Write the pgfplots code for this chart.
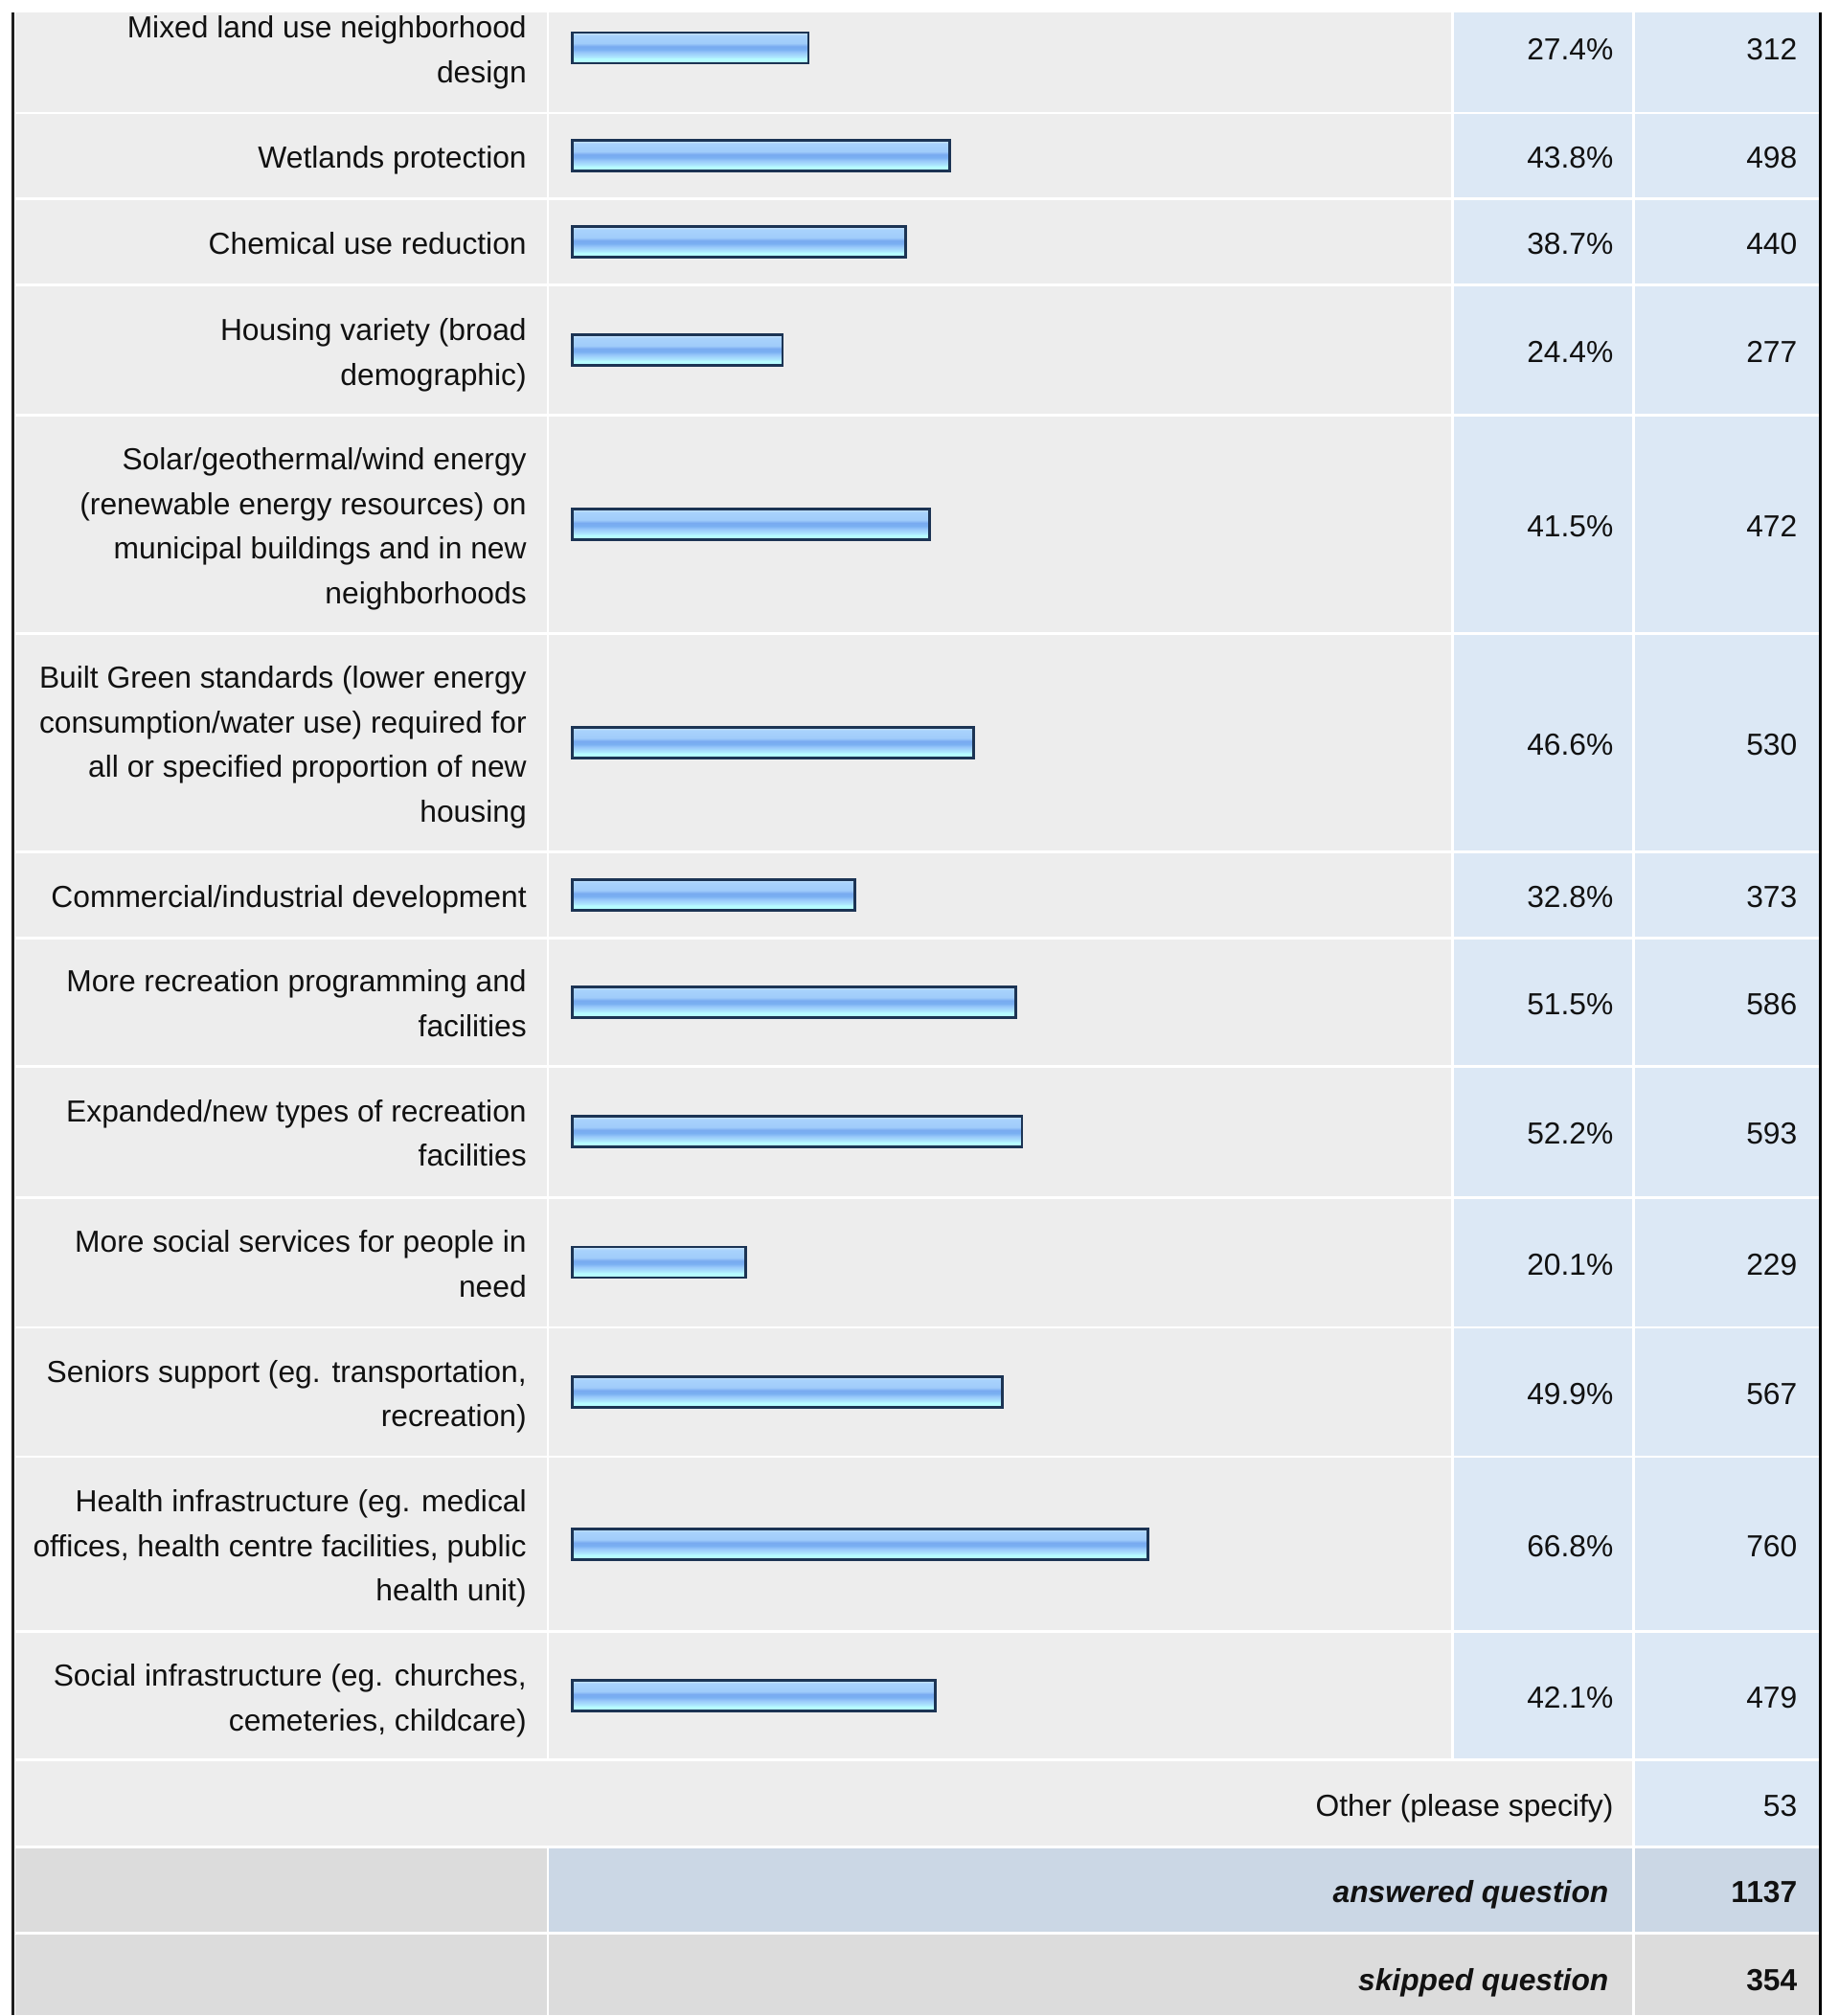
\documentclass[border=0pt]{standalone}
\usepackage{pgfplots}
\pgfplotsset{compat=1.18}
\usepackage{fontspec}
\setmainfont{Liberation Sans}
\definecolor{cellgrey}{HTML}{EDEDED}
\definecolor{cellblue}{HTML}{DCE8F5}
\definecolor{sumgrey}{HTML}{DCDCDC}
\definecolor{sumblue}{HTML}{CBD7E5}
\definecolor{barline}{HTML}{1C3454}
\definecolor{txt}{HTML}{111111}
\definecolor{bA}{HTML}{CCE6FC}
\definecolor{bB}{HTML}{A8D2FC}
\definecolor{bC}{HTML}{A0CCFA}
\definecolor{bD}{HTML}{78AAF0}
\definecolor{bE}{HTML}{7AB0F2}
\definecolor{bF}{HTML}{98C8FA}
\definecolor{bG}{HTML}{AEE8FE}
\definecolor{bH}{HTML}{B6FCFF}
\pgfdeclareverticalshading{barshade}{100bp}{color(0bp)=(bH); color(25bp)=(bH); color(32.5bp)=(bH); color(35bp)=(bG); color(42.5bp)=(bF); color(47.5bp)=(bE); color(52.5bp)=(bD); color(57.5bp)=(bC); color(70bp)=(bB); color(75bp)=(bA); color(100bp)=(bA)}
\newcommand\st{\rule[-4.5pt]{0pt}{22pt}}
\pgfplotsset{mybar/.style={xbar, bar width=32, draw=barline, line width=1.4pt, solid, mark=none, shading=barshade}}
\begin{document}
\begin{tikzpicture}[
  lab/.style={anchor=east, inner sep=0pt, align=right, font=\fontsize{15.9pt}{23.3pt}\selectfont, text=txt},
]
\begin{axis}[
  scale only axis, width=960.5pt, height=1052.5pt,
  xmin=-66.4444, xmax=147.0, ymin=0, ymax=2105, y dir=reverse,
  hide axis, clip=false, set layers,
]
\begin{pgfonlayer}{axis background}
\fill[white] (axis cs:-66.4444,0) rectangle (axis cs:147.0,2105);
\fill[cellgrey] (axis cs:-64.6667,13) rectangle (axis cs:102.1667,1839);
\fill[cellblue] (axis cs:102.1667,13) rectangle (axis cs:144.6667,1839);
\fill[cellgrey] (axis cs:-64.6667,1839) rectangle (axis cs:123.1667,1930);
\fill[cellblue] (axis cs:123.1667,1839) rectangle (axis cs:144.6667,1930);
\fill[sumgrey] (axis cs:-64.6667,1930) rectangle (axis cs:-2.8333,2020);
\fill[sumblue] (axis cs:-2.8333,1930) rectangle (axis cs:144.6667,2020);
\fill[sumgrey] (axis cs:-64.6667,2020) rectangle (axis cs:144.6667,2105);
\pgfplotsinvokeforeach{118,208,298,434,662,890,980,1114,1251,1387,1522,1705,1839,1930,2020}{
  \draw[white, line width=1.4pt] (axis cs:-64.6667,#1) -- (axis cs:144.6667,#1);
}
\draw[white, line width=1.4pt] (axis cs:-2.8333,13) -- (axis cs:-2.8333,1839);
\draw[white, line width=1.4pt] (axis cs:-2.8333,1930) -- (axis cs:-2.8333,2105);
\draw[white, line width=1.4pt] (axis cs:102.1667,13) -- (axis cs:102.1667,1839);
\draw[white, line width=1.4pt] (axis cs:123.1667,13) -- (axis cs:123.1667,2105);
\draw[black!88, line width=1.5pt] (axis cs:-64.8889,13) -- (axis cs:-64.8889,2105);
\draw[black, line width=1.5pt] (axis cs:144.8333,13) -- (axis cs:144.8333,2105);
\end{pgfonlayer}

% one bar per plot so that each bar gets its own gradient (value %, row centre)
\addplot[mybar] coordinates {(27.4,50)};
\addplot[mybar] coordinates {(43.8,163)};
\addplot[mybar] coordinates {(38.7,253)};
\addplot[mybar] coordinates {(24.4,366)};
\addplot[mybar] coordinates {(41.5,548)};
\addplot[mybar] coordinates {(46.6,776)};
\addplot[mybar] coordinates {(32.8,935)};
\addplot[mybar] coordinates {(51.5,1047)};
\addplot[mybar] coordinates {(52.2,1182.5)};
\addplot[mybar] coordinates {(20.1,1319)};
\addplot[mybar] coordinates {(49.9,1454.5)};
\addplot[mybar] coordinates {(66.8,1613.5)};
\addplot[mybar] coordinates {(42.1,1772)};

% labels
\node[lab] at (axis cs:-5.2778,50) {\st Mixed land use neighborhood\\\st design};
\node[lab] at (axis cs:-5.2778,163) {\st Wetlands protection};
\node[lab] at (axis cs:-5.2778,253) {\st Chemical use reduction};
\node[lab] at (axis cs:-5.2778,366) {\st Housing variety (broad\\\st demographic)};
\node[lab] at (axis cs:-5.2778,548) {\st Solar/geothermal/wind energy\\\st (renewable energy resources) on\\\st municipal buildings and in new\\\st neighborhoods};
\node[lab] at (axis cs:-5.2778,776) {\st Built Green standards (lower energy\\\st consumption/water use) required for\\\st all or specified proportion of new\\\st housing};
\node[lab] at (axis cs:-5.2778,935) {\st Commercial/industrial development};
\node[lab] at (axis cs:-5.2778,1047) {\st More recreation programming and\\\st facilities};
\node[lab] at (axis cs:-5.2778,1182.5) {\st Expanded/new types of recreation\\\st facilities};
\node[lab] at (axis cs:-5.2778,1319) {\st More social services for people in\\\st need};
\node[lab] at (axis cs:-5.2778,1454.5) {\st Seniors support (eg. transportation,\\\st recreation)};
\node[lab] at (axis cs:-5.2778,1613.5) {\st Health infrastructure (eg. medical\\\st offices, health centre facilities, public\\\st health unit)};
\node[lab] at (axis cs:-5.2778,1772) {\st Social infrastructure (eg. churches,\\\st cemeteries, childcare)};
% percents
\node[lab] at (axis cs:120.8889,50) {\st 27.4\%};
\node[lab] at (axis cs:120.8889,163) {\st 43.8\%};
\node[lab] at (axis cs:120.8889,253) {\st 38.7\%};
\node[lab] at (axis cs:120.8889,366) {\st 24.4\%};
\node[lab] at (axis cs:120.8889,548) {\st 41.5\%};
\node[lab] at (axis cs:120.8889,776) {\st 46.6\%};
\node[lab] at (axis cs:120.8889,935) {\st 32.8\%};
\node[lab] at (axis cs:120.8889,1047) {\st 51.5\%};
\node[lab] at (axis cs:120.8889,1182.5) {\st 52.2\%};
\node[lab] at (axis cs:120.8889,1319) {\st 20.1\%};
\node[lab] at (axis cs:120.8889,1454.5) {\st 49.9\%};
\node[lab] at (axis cs:120.8889,1613.5) {\st 66.8\%};
\node[lab] at (axis cs:120.8889,1772) {\st 42.1\%};
% counts
\node[lab] at (axis cs:142.2222,50) {\st 312};
\node[lab] at (axis cs:142.2222,163) {\st 498};
\node[lab] at (axis cs:142.2222,253) {\st 440};
\node[lab] at (axis cs:142.2222,366) {\st 277};
\node[lab] at (axis cs:142.2222,548) {\st 472};
\node[lab] at (axis cs:142.2222,776) {\st 530};
\node[lab] at (axis cs:142.2222,935) {\st 373};
\node[lab] at (axis cs:142.2222,1047) {\st 586};
\node[lab] at (axis cs:142.2222,1182.5) {\st 593};
\node[lab] at (axis cs:142.2222,1319) {\st 229};
\node[lab] at (axis cs:142.2222,1454.5) {\st 567};
\node[lab] at (axis cs:142.2222,1613.5) {\st 760};
\node[lab] at (axis cs:142.2222,1772) {\st 479};
% summary rows
\node[lab] at (axis cs:120.8889,1884.5) {\st Other (please specify)};
\node[lab] at (axis cs:142.2222,1884.5) {\st 53};
\node[lab] at (axis cs:120.3333,1975) {\st\bfseries\itshape answered question};
\node[lab] at (axis cs:142.2222,1975) {\st\bfseries 1137};
\node[lab] at (axis cs:120.3333,2067) {\st\bfseries\itshape skipped question};
\node[lab] at (axis cs:142.2222,2067) {\st\bfseries 354};
\end{axis}
\end{tikzpicture}
\end{document}
